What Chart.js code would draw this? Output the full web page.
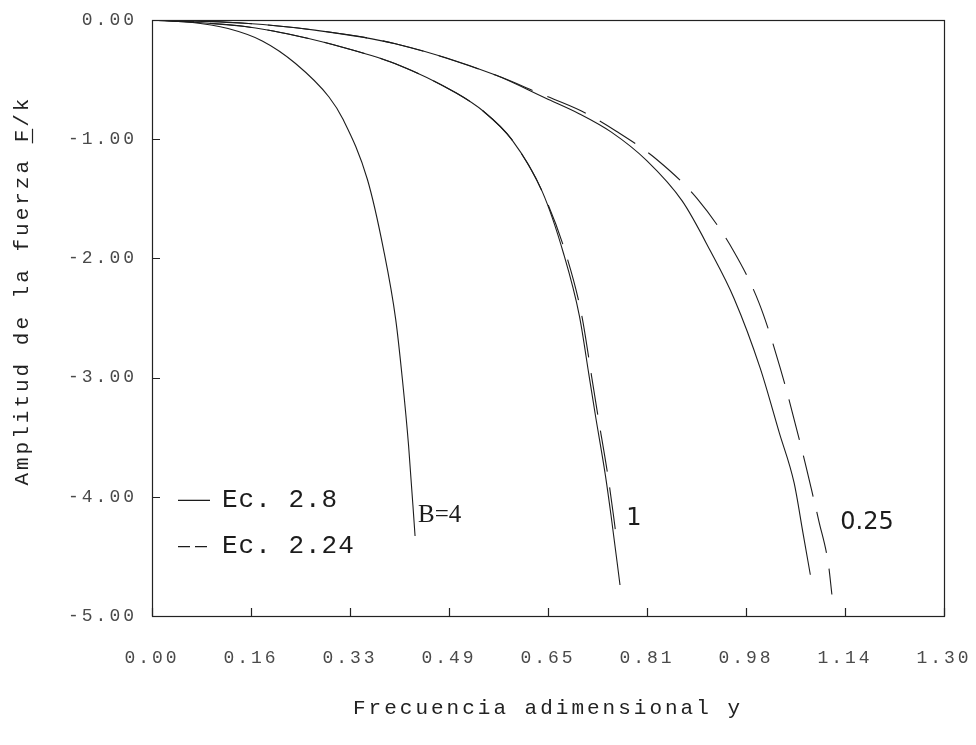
<!DOCTYPE html>
<html>
<head>
<meta charset="utf-8">
<script src="https://cdn.jsdelivr.net/npm/chart.js@4.4.0/dist/chart.umd.min.js"></script>
<style>
html,body{margin:0;padding:0;background:#fff;}
canvas{display:block;}
</style>
</head>
<body>
<canvas id="c" width="976" height="745"></canvas>
<script>
// ---------- data ----------
const xTickValues = [0, 0.1625, 0.325, 0.4875, 0.65, 0.8125, 0.975, 1.1375, 1.3];
const xTickLabels = ['0.00','0.16','0.33','0.49','0.65','0.81','0.98','1.14','1.30'];
const yTickValues = [0, -1, -2, -3, -4, -5];
const yTickLabels = ['0.00','-1.00','-2.00','-3.00','-4.00','-5.00'];

const xTitle = 'Frecuencia adimensional y';
const yTitle = 'Amplitud de la fuerza F/k';
const legendLabels = ['Ec. 2.8', 'Ec. 2.24'];
const curveLabels = ['B=4', '1', '0.25'];

// B = 4, Ec. 2.8 (solid)
const b4SolidX = [0, 0.06, 0.1248, 0.181, 0.2356, 0.2905, 0.314, 0.3536, 0.380, 0.400, 0.411, 0.4212, 0.4318];
const b4SolidY = [0, -0.017, -0.072, -0.176, -0.365, -0.646, -0.837, -1.338, -1.924, -2.511, -3.014, -3.574, -4.329];

// B = 1, Ec. 2.8 (solid)
const b1SolidX = [0, 0.1526, 0.2349, 0.3172, 0.3995, 0.4987, 0.545, 0.590, 0.6406, 0.6754, 0.7016, 0.7175, 0.728, 0.7444, 0.7536, 0.7682];
const b1SolidY = [0, -0.055, -0.13, -0.235, -0.367, -0.611, -0.77, -1.0, -1.44, -1.957, -2.484, -2.987, -3.322, -3.826, -4.161, -4.74];

// B = 1, Ec. 2.24 (dashed)
const b1DashX = [0, 0.1526, 0.2349, 0.3172, 0.3995, 0.4987, 0.545, 0.590, 0.6406, 0.679, 0.7056, 0.7215, 0.732, 0.7484, 0.7576, 0.7635];
const b1DashY = [0, -0.055, -0.13, -0.235, -0.367, -0.611, -0.77, -1.0, -1.44, -1.956, -2.484, -2.987, -3.322, -3.826, -4.161, -4.396];

// B = 0.25, Ec. 2.8 (solid)
const b025SolidX = [0, 0.1525, 0.2674, 0.3995, 0.5638, 0.6464, 0.701, 0.754, 0.8121, 0.8705, 0.9164, 0.9554, 0.9983, 1.0297, 1.0539, 1.0685, 1.0806];
const b025SolidY = [0, -0.027, -0.085, -0.199, -0.462, -0.657, -0.786, -0.941, -1.18, -1.52, -1.936, -2.336, -2.921, -3.464, -3.882, -4.302, -4.654];

// B = 0.25, Ec. 2.24 (dashed)
const b025DashX = [0, 0.1525, 0.2674, 0.3995, 0.5638, 0.6382, 0.7041, 0.7621, 0.8285, 0.8952, 0.9541, 0.9965, 1.0311, 1.0691, 1.0867, 1.0944, 1.1103, 1.116];
const b025DashY = [0, -0.027, -0.085, -0.199, -0.462, -0.62, -0.761, -0.933, -1.170, -1.501, -1.933, -2.375, -2.918, -3.654, -4.031, -4.199, -4.567, -4.82];

// ---------- build ----------
function pts(xs, ys) { return xs.map((x, i) => ({ x: x, y: ys[i] })); }

const INK = '#1c1c1c';
const solidStyle = { borderColor: INK, borderWidth: 1.1, pointRadius: 0, fill: false, cubicInterpolationMode: 'monotone' };
const dashStyle = Object.assign({}, solidStyle, { borderDash: [42, 16] });

const datasets = [
  Object.assign({ label: legendLabels[0] + ' B=4', data: pts(b4SolidX, b4SolidY) }, solidStyle),
  Object.assign({ label: legendLabels[0] + ' B=1', data: pts(b1SolidX, b1SolidY) }, solidStyle),
  Object.assign({ label: legendLabels[1] + ' B=1', data: pts(b1DashX, b1DashY) }, dashStyle),
  Object.assign({ label: legendLabels[0] + ' B=0.25', data: pts(b025SolidX, b025SolidY) }, solidStyle),
  Object.assign({ label: legendLabels[1] + ' B=0.25', data: pts(b025DashX, b025DashY) }, dashStyle)
];

const tickFont = { family: 'Liberation Mono', size: 18 };
const titleFont = { family: 'Liberation Mono', size: 21 };

function noPad(s) { s.paddingLeft = 0; s.paddingRight = 0; s.paddingTop = 0; s.paddingBottom = 0; }

const decorPlugin = {
  id: 'decor',
  beforeInit(chart) { chart.ctx.letterSpacing = '3px'; },
  beforeDraw(chart) { chart.ctx.letterSpacing = '3px'; },
  afterDraw(chart) {
    const { ctx, chartArea: a, scales } = chart;
    const xs = scales.x, ys = scales.y;
    ctx.save();
    // frame
    ctx.strokeStyle = '#222';
    ctx.lineWidth = 1.2;
    ctx.strokeRect(Math.round(a.left) + 0.5, Math.round(a.top) + 0.5,
                   Math.round(a.right - a.left), Math.round(a.bottom - a.top));
    // inner tick marks
    ctx.beginPath();
    xTickValues.forEach(v => {
      const px = Math.round(xs.getPixelForValue(v)) + 0.5;
      ctx.moveTo(px, a.bottom); ctx.lineTo(px, a.bottom - 8);
    });
    yTickValues.forEach(v => {
      const py = Math.round(ys.getPixelForValue(v)) + 0.5;
      ctx.moveTo(a.left, py); ctx.lineTo(a.left + 8, py);
    });
    ctx.stroke();

    // y-axis title (with underlined F)
    ctx.fillStyle = '#222';
    ctx.font = '21px "Liberation Mono"';
    ctx.letterSpacing = '3px';
    ctx.textBaseline = 'middle';
    ctx.textAlign = 'left';
    ctx.translate(22, ys.getPixelForValue(-2.27));
    ctx.rotate(-Math.PI / 2);
    const w = ctx.measureText(yTitle).width;
    ctx.fillText(yTitle, -w / 2, 0);
    const pre = ctx.measureText(yTitle.slice(0, yTitle.indexOf('F/k'))).width;
    const fw = ctx.measureText('F').width - 3;
    ctx.beginPath();
    ctx.lineWidth = 1.2;
    ctx.moveTo(-w / 2 + pre - 1, 10.5);
    ctx.lineTo(-w / 2 + pre + fw + 1, 10.5);
    ctx.stroke();
    ctx.setTransform(1, 0, 0, 1, 0, 0);

    // legend
    ctx.strokeStyle = INK;
    ctx.lineWidth = 1.3;
    const lx = a.left + 26, ly1 = ys.getPixelForValue(-4.03), ly2 = ys.getPixelForValue(-4.41);
    ctx.beginPath(); ctx.moveTo(lx, ly1); ctx.lineTo(lx + 32, ly1); ctx.stroke();
    ctx.setLineDash([12, 5]);
    ctx.beginPath(); ctx.moveTo(lx, ly2 + 1); ctx.lineTo(lx + 30, ly2 + 1); ctx.stroke();
    ctx.setLineDash([]);
    ctx.font = '26px "Liberation Mono"';
    ctx.letterSpacing = '1px';
    ctx.fillStyle = INK;
    ctx.textAlign = 'left';
    ctx.textBaseline = 'middle';
    ctx.fillText(legendLabels[0], lx + 44, ly1);
    ctx.fillText(legendLabels[1], lx + 44, ly2);

    // curve labels
    ctx.letterSpacing = '0px';
    ctx.font = '25px "Liberation Serif"';
    ctx.fillText(curveLabels[0], xs.getPixelForValue(0.4366), ys.getPixelForValue(-4.153));
    ctx.font = '24px "DejaVu Sans"';
    ctx.textAlign = 'center';
    ctx.fillText(curveLabels[1], xs.getPixelForValue(0.791), ys.getPixelForValue(-4.186));
    ctx.fillText(curveLabels[2], xs.getPixelForValue(1.1736), ys.getPixelForValue(-4.22));
    ctx.restore();
  }
};

new Chart(document.getElementById('c'), {
  type: 'line',
  data: { datasets: datasets },
  plugins: [decorPlugin],
  options: {
    responsive: false,
    devicePixelRatio: 1,
    animation: false,
    layout: { padding: { left: 0, right: 32, top: 20, bottom: 0 } },
    plugins: { legend: { display: false }, tooltip: { enabled: false } },
    scales: {
      x: {
        type: 'linear', min: 0, max: 1.3,
        afterBuildTicks: s => { s.ticks = xTickValues.map(v => ({ value: v })); },
        afterFit: s => { s.height = 129; noPad(s); },
        ticks: {
          callback: v => xTickLabels[xTickValues.indexOf(v)],
          font: tickFont, color: '#4a4a4a', padding: 31, maxRotation: 0, autoSkip: false
        },
        grid: { display: false, drawTicks: false },
        border: { display: false },
        title: { display: true, text: xTitle, font: titleFont, color: '#222', padding: { top: 0, bottom: 24 } }
      },
      y: {
        type: 'linear', min: -5, max: 0,
        afterBuildTicks: s => { s.ticks = yTickValues.slice().reverse().map(v => ({ value: v })); },
        afterFit: s => { s.width = 152; noPad(s); },
        ticks: {
          callback: v => yTickLabels[yTickValues.indexOf(v)],
          font: tickFont, color: '#4a4a4a', padding: 15, autoSkip: false
        },
        grid: { display: false, drawTicks: false },
        border: { display: false }
      }
    }
  }
});
</script>
</body>
</html>
